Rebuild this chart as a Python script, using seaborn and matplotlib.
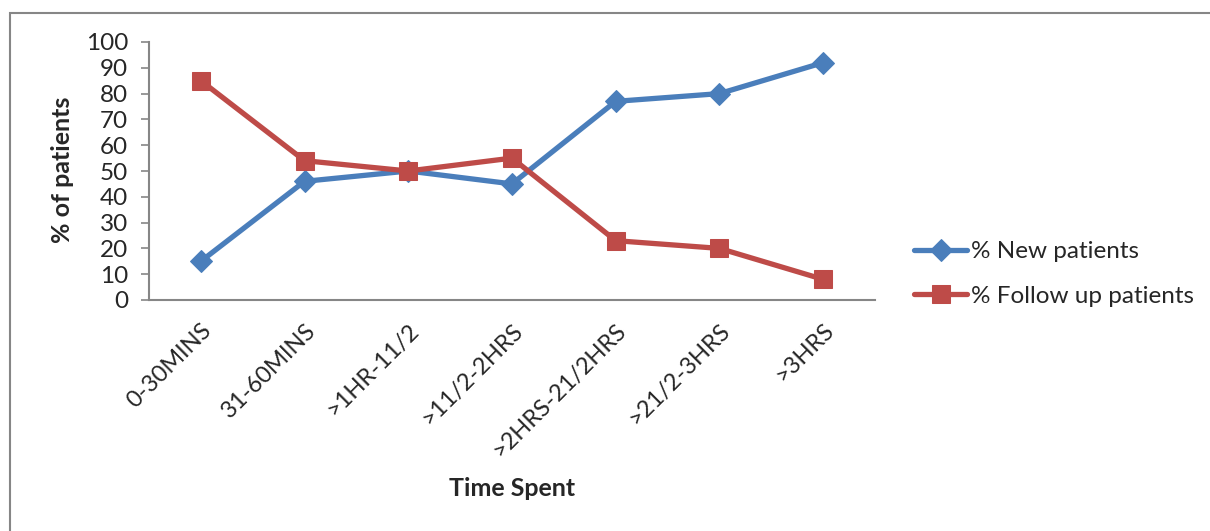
import matplotlib
matplotlib.use("Agg")
import matplotlib.pyplot as plt
import seaborn as sns
import pandas as pd
from matplotlib.patches import Rectangle

categories = ["0-30MINS", "31-60MINS", ">1HR-11/2", ">11/2-2HRS",
              ">2HRS-21/2HRS", ">21/2-3HRS", ">3HRS"]
new_patients = [15, 46, 50, 45, 77, 80, 92]
follow_up = [85, 54, 50, 55, 23, 20, 8]
series_names = ["% New patients", "% Follow up patients"]
y_ticks = [0, 10, 20, 30, 40, 50, 60, 70, 80, 90, 100]

sns.set_theme(style="white")
plt.rcParams['font.family'] = ['Lato', 'DejaVu Sans']

df = pd.DataFrame({
    "cat": categories * 2,
    "pos": list(range(len(categories))) * 2,
    "value": new_patients + follow_up,
    "series": [series_names[0]] * len(categories) + [series_names[1]] * len(categories),
})

fig = plt.figure(figsize=(12.1, 5.31), dpi=100)
ax = fig.add_axes([149/1210, 1 - 300/531, (875-149)/1210, (300-42)/531])

palette = {series_names[0]: "#4A7EBB", series_names[1]: "#BE4B48"}
markers = {series_names[0]: "D", series_names[1]: "s"}
sizes = {series_names[0]: 11, series_names[1]: 13}

for name in series_names:
    sub = df[df.series == name]
    sns.lineplot(data=sub, x="pos", y="value", ax=ax, color=palette[name],
                 marker=markers[name], markersize=sizes[name],
                 markeredgecolor=palette[name], linewidth=3.8, label=name,
                 sort=False)

ax.set_xlim(-0.5, len(categories) - 0.5)
ax.set_ylim(0, 100)
ax.set_yticks(y_ticks)
ax.set_yticklabels([str(t) for t in y_ticks], fontsize=17.5)
ax.set_xticks(range(len(categories)))
ax.set_xticklabels(categories, rotation=45, ha="right", rotation_mode="anchor",
                   fontsize=17)
ax.tick_params(axis="y", which="both", left=True, length=6, width=1.2,
               color="#868686", pad=9)
ax.tick_params(axis="x", bottom=False, pad=8)

for s in ["top", "right"]:
    ax.spines[s].set_visible(False)
for s in ["left", "bottom"]:
    ax.spines[s].set_color("#868686")
    ax.spines[s].set_linewidth(1.5)

ax.set_xlabel("")
ax.set_ylabel("")
fig.text(512/1210, 1 - 488/531, "Time Spent", fontsize=18, fontweight="bold",
         ha="center", va="center")
fig.text(62/1210, 1 - 170/531, "% of patients", fontsize=18, fontweight="bold",
         ha="center", va="center", rotation=90)

leg = ax.legend(loc="center left", bbox_to_anchor=(914/1210, 1 - 274/531),
                bbox_transform=fig.transFigure, frameon=False, fontsize=17.5,
                handlelength=2.2, handletextpad=0.15, labelspacing=0.98,
                borderaxespad=0, borderpad=0)

fig.patches.append(Rectangle((10/1210, -0.1), 1.2, 1 - 13/531 + 0.1,
                             transform=fig.transFigure, fill=False,
                             edgecolor="#868686", linewidth=1.5))

fig.savefig("out.png", dpi=100)
